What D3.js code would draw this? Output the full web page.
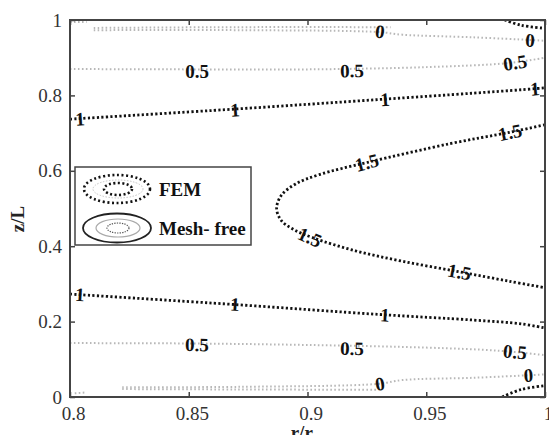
<!DOCTYPE html>
<html>
<head>
<meta charset="utf-8">
<script src="https://cdn.jsdelivr.net/npm/d3@7"></script>
<style>
  html, body { margin: 0; padding: 0; background: #fff; }
  svg { display: block; }
  svg text { font-family: "Liberation Serif", "Times New Roman", Tinos, "DejaVu Serif", "Noto Serif", serif; }
</style>
</head>
<body>
<svg id="chart" width="549" height="435"></svg>
<script>
// ---------- data ----------
const xTicks = [0.8, 0.85, 0.9, 0.95, 1];
const yTicks = [0, 0.2, 0.4, 0.6, 0.8, 1];
const xTickLabels = ["0.8", "0.85", "0.9", "0.95", "1"];
const yTickLabels = ["0", "0.2", "0.4", "0.6", "0.8", "1"];

// FEM contours (black dotted), points are [r/r0, z/L]
const femLevel1Top = [[0.8, 0.737], [0.87, 0.764], [0.93, 0.789], [0.97, 0.806], [0.99, 0.815], [1.0, 0.82]];
const femLevel1Bottom = [[0.8, 0.273], [0.87, 0.245], [0.93, 0.219], [0.97, 0.204], [0.99, 0.194], [1.0, 0.183]];
const femLevel15 = [[1.0, 0.722], [0.985, 0.702], [0.96, 0.672], [0.925, 0.622], [0.905, 0.59], [0.895, 0.565],
                    [0.889, 0.535], [0.887, 0.5], [0.889, 0.468], [0.894, 0.445], [0.902, 0.423], [0.92, 0.388],
                    [0.94, 0.36], [0.964, 0.332], [0.985, 0.307], [1.0, 0.29]];
const femLevel0Top = [[0.983, 1.0], [0.99, 0.986], [1.0, 0.978]];
const femLevel0Bottom = [[0.982, 0.0], [0.99, 0.02], [1.0, 0.03]];

// Mesh-free contours (grey dotted)
const mfLevel0Top = [[0.81, 0.973], [0.872, 0.973], [0.93, 0.968], [0.94, 0.961], [0.97, 0.954], [0.994, 0.947], [1.0, 0.945]];
const mfLevel0TopB = [[0.81, 0.979], [0.87, 0.981], [0.935, 0.981]];
const mfLevel0Bottom = [[0.822, 0.026], [0.872, 0.027], [0.93, 0.035], [0.94, 0.045], [0.97, 0.051], [0.994, 0.058], [1.0, 0.06]];
const mfLevel0BottomB = [[0.822, 0.021], [0.87, 0.02], [0.93, 0.019]];
const mfLevel05Top = [[0.8, 0.87], [0.85, 0.869], [0.9, 0.869], [0.95, 0.875], [0.985, 0.886], [1.0, 0.9]];
const mfLevel05Bottom = [[0.8, 0.143], [0.85, 0.142], [0.9, 0.138], [0.95, 0.131], [0.98, 0.123], [1.0, 0.111]];
const mfCornerTop = [[0.8, 0.995], [0.807, 0.995]];
const mfCornerBottom = [[0.802, 0.01], [0.807, 0.012]];

// contour labels: text, [r, z], line it sits on
const labelTexts = ["0.5", "0.5", "0.5", "0", "0", "1", "1", "1", "1", "1.5", "1.5", "1.5", "1.5",
                    "1", "1", "1", "0.5", "0.5", "0.5", "0", "0"];
const labelPoints = [[0.8535, 0.863], [0.9187, 0.866], [0.9874, 0.887], [0.9305, 0.97], [0.9937, 0.947],
                     [0.8042, 0.738], [0.8695, 0.762], [0.9326, 0.79], [0.9958, 0.818],
                     [0.925, 0.622], [0.9853, 0.702], [0.901, 0.424], [0.964, 0.332],
                     [0.8042, 0.272], [0.8695, 0.246], [0.9326, 0.218],
                     [0.8535, 0.139], [0.9187, 0.129], [0.9874, 0.12], [0.9305, 0.035], [0.993, 0.058]];
const labelLines = ["mfLevel05Top", "mfLevel05Top", "mfLevel05Top", "mfLevel0Top", "mfLevel0Top",
                    "femLevel1Top", "femLevel1Top", "femLevel1Top", "femLevel1Top",
                    "femLevel15", "femLevel15", "femLevel15", "femLevel15",
                    "femLevel1Bottom", "femLevel1Bottom", "femLevel1Bottom",
                    "mfLevel05Bottom", "mfLevel05Bottom", "mfLevel05Bottom", "mfLevel0Bottom", "mfLevel0Bottom"];

const legendLabels = ["FEM", "Mesh- free"];

// ---------- layout ----------
const svg = d3.select("#chart");
const mLeft = 70, mRight = 545, mTop = 20, mBottom = 397;
const x = d3.scaleLinear().domain([0.8, 1]).range([mLeft, mRight]);
const y = d3.scaleLinear().domain([0, 1]).range([mBottom, mTop]);

const lines = { femLevel1Top, femLevel1Bottom, femLevel15, femLevel0Top, femLevel0Bottom,
                mfLevel0Top, mfLevel0TopB, mfLevel0Bottom, mfLevel0BottomB, mfLevel05Top, mfLevel05Bottom,
                mfCornerTop, mfCornerBottom };

const line = d3.line().x(d => x(d[0])).y(d => y(d[1])).curve(d3.curveCatmullRom.alpha(0.5));

svg.append("defs").append("clipPath").attr("id", "plotclip")
  .append("rect").attr("x", mLeft).attr("y", mTop).attr("width", mRight - mLeft).attr("height", mBottom - mTop);

const plot = svg.append("g").attr("clip-path", "url(#plotclip)");

const greyStyle = { stroke: "#b8b8b8", width: 2, dash: "1.6 2.4" };
const femStyle = { stroke: "#111", width: 2.8, dash: "2.2 2.3" };

Object.keys(lines).forEach(k => {
  const s = k.startsWith("fem") ? femStyle : greyStyle;
  plot.append("path")
    .attr("d", line(lines[k]))
    .attr("fill", "none")
    .attr("stroke", s.stroke)
    .attr("stroke-width", s.width)
    .attr("stroke-dasharray", s.dash);
});

// ---------- contour labels ----------
function slopeAngle(pts, p) {
  const px = x(p[0]), py = y(p[1]);
  let best = 0, bd = Infinity;
  for (let i = 0; i < pts.length - 1; i++) {
    const mx = (x(pts[i][0]) + x(pts[i + 1][0])) / 2, my = (y(pts[i][1]) + y(pts[i + 1][1])) / 2;
    const d = (mx - px) ** 2 + (my - py) ** 2;
    if (d < bd) { bd = d; best = i; }
  }
  let dx = x(pts[best + 1][0]) - x(pts[best][0]);
  let dy = y(pts[best + 1][1]) - y(pts[best][1]);
  if (dx < 0) { dx = -dx; dy = -dy; }
  return Math.atan2(dy, dx) * 180 / Math.PI;
}

labelTexts.forEach((t, i) => {
  const p = labelPoints[i];
  const ang = slopeAngle(lines[labelLines[i]], p);
  plot.append("text")
    .attr("transform", `translate(${x(p[0])},${y(p[1])}) rotate(${ang})`)
    .attr("text-anchor", "middle")
    .attr("dy", "0.35em")
    .attr("font-weight", "bold")
    .attr("font-size", 19)
    .attr("fill", "#111")
    .text(t);
});

// ---------- axes ----------
const axisColor = "#444";

svg.append("rect").attr("x", mLeft).attr("y", mTop).attr("width", mRight - mLeft).attr("height", mBottom - mTop)
  .attr("fill", "none").attr("stroke", axisColor).attr("stroke-width", 2);

const xb = svg.append("g").attr("transform", `translate(0,${mBottom})`)
  .call(d3.axisBottom(x).tickValues(xTicks).tickSizeInner(-5).tickSizeOuter(0).tickPadding(10)
    .tickFormat((d, i) => xTickLabels[i]));
const xt = svg.append("g").attr("transform", `translate(0,${mTop})`)
  .call(d3.axisTop(x).tickValues(xTicks).tickSizeInner(-5).tickSizeOuter(0).tickFormat(""));
const yl = svg.append("g").attr("transform", `translate(${mLeft},0)`)
  .call(d3.axisLeft(y).tickValues(yTicks).tickSizeInner(-5).tickSizeOuter(0).tickPadding(8)
    .tickFormat((d, i) => yTickLabels[i]));
const yr = svg.append("g").attr("transform", `translate(${mRight},0)`)
  .call(d3.axisRight(y).tickValues(yTicks).tickSizeInner(-5).tickSizeOuter(0).tickFormat(""));

[xb, xt, yl, yr].forEach(g => {
  g.attr("font-family", null).attr("font-size", null);
  g.select(".domain").remove();
  g.selectAll(".tick line").attr("stroke", axisColor).attr("stroke-width", 1.5);
  g.selectAll(".tick text").attr("font-size", 19).attr("fill", "#333");
});
xb.selectAll(".tick text").attr("dx", 3);

// axis titles
svg.append("text")
  .attr("transform", `translate(24,219) rotate(-90)`)
  .attr("text-anchor", "middle")
  .attr("font-weight", "bold").attr("font-size", 19).attr("fill", "#222")
  .text("z/L");

const xTitle = svg.append("text")
  .attr("x", 305).attr("y", 439)
  .attr("text-anchor", "middle")
  .attr("font-weight", "bold").attr("font-size", 19).attr("fill", "#222");
xTitle.append("tspan").text("r/r");
xTitle.append("tspan").attr("font-size", 13).attr("dy", 4).text("0");

// ---------- legend ----------
const lg = svg.append("g");
lg.append("rect").attr("x", 75).attr("y", 167).attr("width", 176).attr("height", 78)
  .attr("fill", "#fff").attr("stroke", axisColor).attr("stroke-width", 1.5);

const cx = 117, cy1 = 189, cy2 = 228;
// FEM symbol
lg.append("ellipse").attr("cx", cx).attr("cy", cy1).attr("rx", 33).attr("ry", 14)
  .attr("fill", "none").attr("stroke", "#111").attr("stroke-width", 2.6).attr("stroke-dasharray", "2 2.6");
lg.append("ellipse").attr("cx", cx + 1).attr("cy", cy1).attr("rx", 25).attr("ry", 9)
  .attr("fill", "none").attr("stroke", "#c4c4c4").attr("stroke-width", 1).attr("stroke-dasharray", "1.5 1.5");
lg.append("ellipse").attr("cx", cx + 1).attr("cy", cy1).attr("rx", 14).attr("ry", 6)
  .attr("fill", "none").attr("stroke", "#111").attr("stroke-width", 2.6).attr("stroke-dasharray", "2 2.4");
// Mesh-free symbol
lg.append("ellipse").attr("cx", cx).attr("cy", cy2).attr("rx", 34).attr("ry", 14.5)
  .attr("fill", "none").attr("stroke", "#222").attr("stroke-width", 1.8);
lg.append("ellipse").attr("cx", cx + 1).attr("cy", cy2).attr("rx", 22).attr("ry", 9)
  .attr("fill", "none").attr("stroke", "#aaa").attr("stroke-width", 1.2);
lg.append("ellipse").attr("cx", cx + 1).attr("cy", cy2).attr("rx", 11).attr("ry", 5)
  .attr("fill", "none").attr("stroke", "#555").attr("stroke-width", 1.2).attr("stroke-dasharray", "1.3 1.2");

[cy1, cy2].forEach((cy, i) => {
  lg.append("text").attr("x", 159).attr("y", cy).attr("dy", "0.35em")
    .attr("font-weight", "bold").attr("font-size", 19).attr("fill", "#111")
    .text(legendLabels[i]);
});
</script>
</body>
</html>
